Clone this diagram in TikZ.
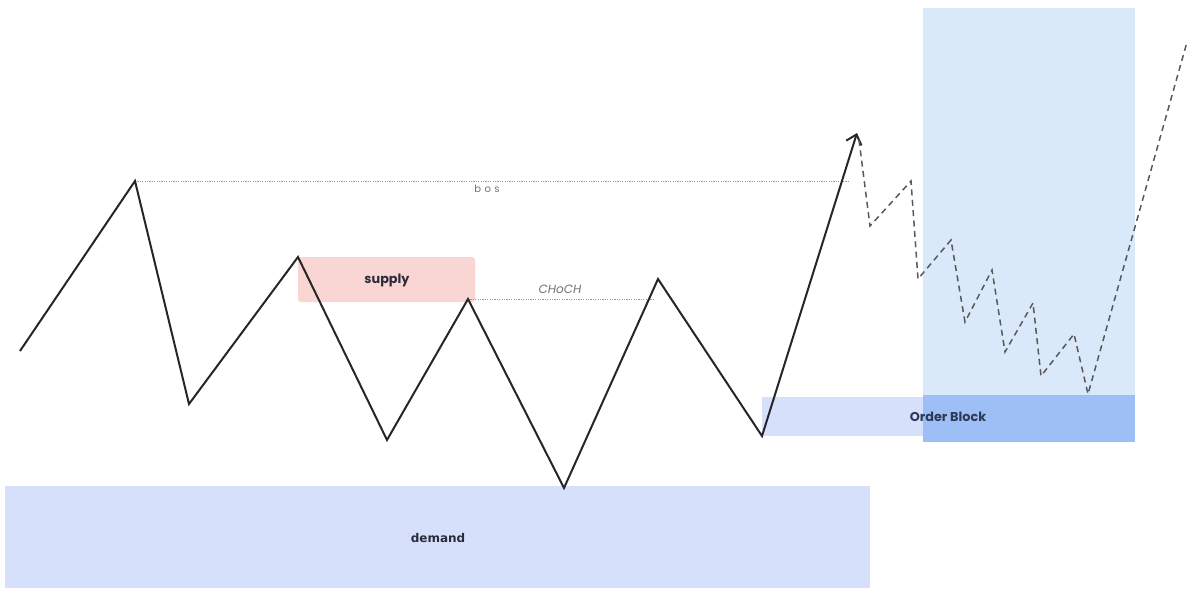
\documentclass[tikz,border=0pt]{standalone}
\usepackage{fontspec}
\setmainfont{Poppins}
\newfontfamily\demandfont{DejaVu Sans}
\usetikzlibrary{arrows.meta}
\definecolor{supplyfill}{HTML}{F9D6D4}
\definecolor{zonefill}{HTML}{D6E0FA}
\definecolor{tallfill}{HTML}{DAE9F9}
\definecolor{overlapfill}{HTML}{9DBFF6}
\definecolor{labeldark}{HTML}{2B2B3A}
\definecolor{obtext}{HTML}{2E3A55}
\tikzset{
  price/.style={line width=1pt, draw=black!85, line join=miter},
  future/.style={line width=0.75pt, draw=black!65, dash pattern=on 3pt off 2.2pt},
  levelline/.style={line width=0.4pt, draw=black!40, dash pattern=on 0.6pt off 0.6pt},
  zonelabel/.style={font=\fontsize{6.4}{7}\selectfont\bfseries, text=labeldark, inner sep=0pt},
  smalllabel/.style={font=\fontsize{5.2}{6}\selectfont, text=black!55, inner sep=0pt},
}
\begin{document}
\begin{tikzpicture}[x=0.5pt,y=-0.5pt]
\useasboundingbox (0,0) rectangle (1189,590);
% zones
\fill[tallfill] (923,8) rectangle (1135,395);
\fill[zonefill] (762,397) rectangle (923,436);
\fill[overlapfill] (923,395) rectangle (1135,442);
\fill[supplyfill, rounded corners=1.5pt] (298,257) rectangle (475,302);
\fill[zonefill] (5,486) rectangle (870,588);
\node[zonelabel] (supply) at (387,280) {supply};
\node[zonelabel, text=obtext] (ob) at (948,417) {Order Block};
\node[zonelabel, font=\demandfont\fontsize{6}{7}\selectfont\bfseries] (demand) at (438,538) {demand};
% price points
\coordinate (p1) at (20,351);
\coordinate (p2) at (135,181);
\coordinate (p3) at (189,404);
\coordinate (p4) at (298,257);
\coordinate (p5) at (387,440);
\coordinate (p6) at (468,299);
\coordinate (p7) at (564,488);
\coordinate (p8) at (658,279);
\coordinate (p9) at (762,436);
\coordinate (p10) at (857,133);
% level lines
\coordinate (bosend) at (850,181);
\coordinate (chochend) at (655,299);
\draw[levelline] (p2) -- (bosend);
\draw[levelline] (p6) -- (chochend);
\node[smalllabel, font=\fontsize{5}{6}\selectfont] (bos) at (487,189) {b\,\,o\,\,s};
\node[smalllabel, font=\fontsize{6}{7}\selectfont\itshape] (choch) at (560,289) {CHoCH};
% price path
\draw[price, -{Straight Barb[length=4.5pt,width=8pt,line width=1pt]}]
  (p1) -- (p2) -- (p3) -- (p4) -- (p5) -- (p6) -- (p7) -- (p8) -- (p9) -- (p10);
% projected path
\coordinate (f0) at (859,140);
\coordinate (f1) at (870,226);
\coordinate (f2) at (911,181);
\coordinate (f3) at (918,279);
\coordinate (f4) at (951,240);
\coordinate (f5) at (965,322);
\coordinate (f6) at (992,270);
\coordinate (f7) at (1005,352);
\coordinate (f8) at (1033,303);
\coordinate (f9) at (1041,376);
\coordinate (f10) at (1074,334);
\coordinate (f11) at (1088,394);
\coordinate (f12) at (1187,42);
\draw[future] (f0) -- (f1) -- (f2) -- (f3) -- (f4) -- (f5) -- (f6) -- (f7) -- (f8) -- (f9) -- (f10) -- (f11) -- (f12);
\end{tikzpicture}
\end{document}
